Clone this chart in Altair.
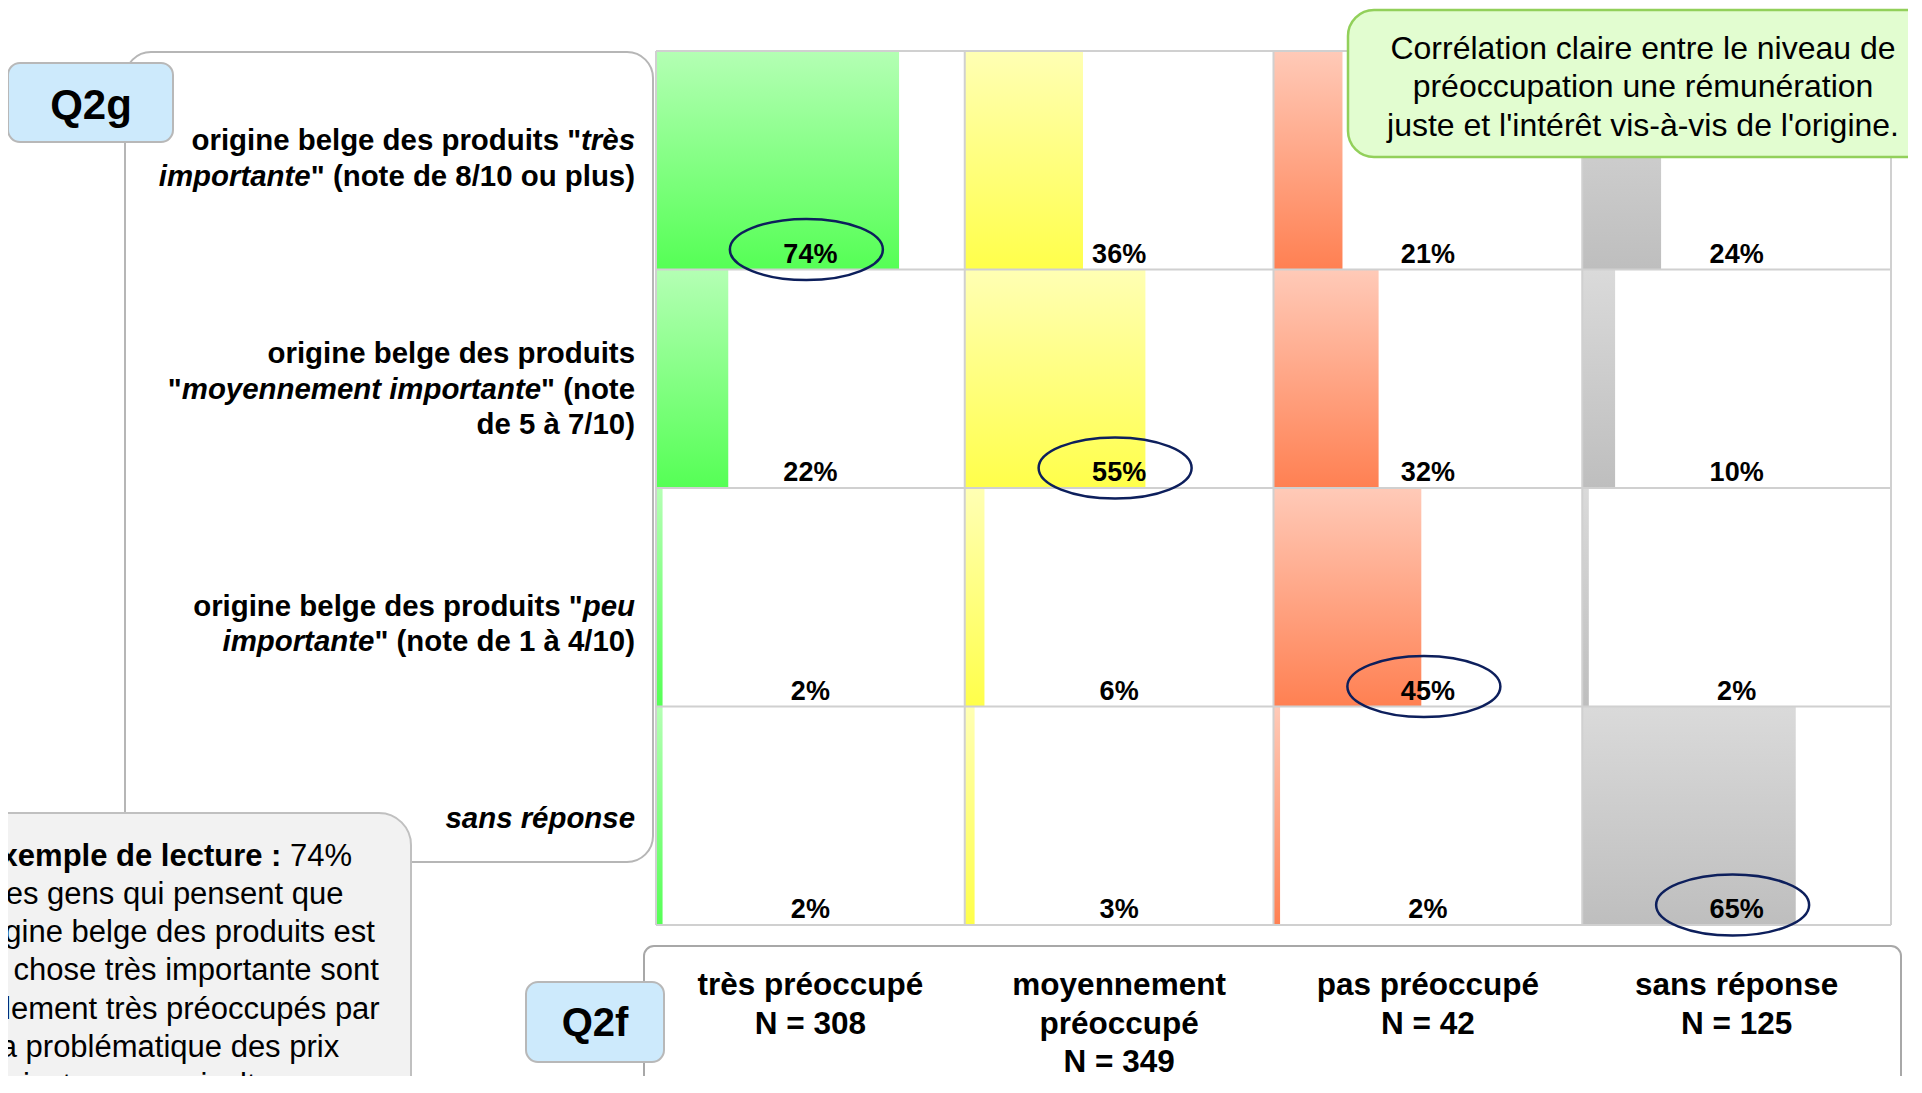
import altair as alt
import pandas as pd

# ---------------- data ----------------
q2f_header_lines = [["très préoccupé"], ["moyennement", "préoccupé"], ["pas préoccupé"], ["sans réponse"]]
q2f_n = [308, 349, 42, 125]

q2g_levels = ["très importante", "moyennement importante", "peu importante", "sans réponse"]

pct_tres_preoccupe = [74, 22, 2, 2]
pct_moyennement_preoccupe = [36, 55, 6, 3]
pct_pas_preoccupe = [21, 32, 45, 2]
pct_sans_reponse = [24, 10, 2, 65]

highlight_rows = [0, 1, 2, 3]   # highlighted row for each column
highlight_cols = [0, 1, 2, 3]

row_label_lines = [
    [[('origine belge des produits "', False), ("très", True)],
     [("importante", True), ('" (note de 8/10 ou plus)', False)]],
    [[("origine belge des produits", False)],
     [('"', False), ("moyennement importante", True), ('" (note', False)],
     [("de 5 à 7/10)", False)]],
    [[('origine belge des produits "', False), ("peu", True)],
     [("importante", True), ('" (note de 1 à 4/10)', False)]],
    [[("sans réponse", True)]],
]

callout_lines = ["Corrélation claire entre le niveau de",
                 "préoccupation une rémunération",
                 "juste et l'intérêt vis-à-vis de l'origine."]
lecture_title = "Exemple de lecture :"
lecture_lead = "74%"
lecture_lines = ["des gens qui pensent que", "l'origine belge des produits est",
                 "une chose très importante sont", "également très préoccupés par",
                 "la problématique des prix", "justes en agriculture."]

# ---------------- layout / style ----------------
FONT = "Liberation Sans"
M = 8
W, H = 1900, 1068
GX0, GX1, GY0, GY1 = 656, 1891, 51, 925
COLW = (GX1 - GX0) / 4
ROWH = (GY1 - GY0) / 4
SCALE_MAX = 94
xs = alt.Scale(domain=[0, 4], range=[GX0 - M, GX1 - M])
ys = alt.Scale(domain=[0, 4], range=[GY0 - M, GY1 - M])

BOLD_W = {' ': 278, '"': 474, '(': 333, ')': 333, '/': 278, '.': 278, ':': 333, "'": 238,
          '=': 584, '%': 889, 'a': 556, 'b': 611, 'c': 556, 'd': 611, 'e': 556, 'f': 333,
          'g': 611, 'h': 611, 'i': 278, 'j': 278, 'k': 556, 'l': 278, 'm': 889, 'n': 611,
          'o': 611, 'p': 611, 'q': 611, 'r': 389, 's': 556, 't': 333, 'u': 611, 'v': 556,
          'w': 778, 'x': 556, 'y': 556, 'z': 500, 'à': 556, 'è': 556, 'é': 556, 'ê': 556,
          'E': 667, 'N': 722, 'Q': 778}
for d in "0123456789":
    BOLD_W[d] = 556
REG_W = {' ': 278, '%': 889}
for d in "0123456789":
    REG_W[d] = 556


def bold_w(s, size):
    return sum(BOLD_W.get(ch, 556) for ch in s) / 1000 * size


def reg_w(s, size):
    return sum(REG_W.get(ch, 556) for ch in s) / 1000 * size


one = pd.DataFrame({"k": [0]})


def rbox(x0, y0, x1, y1, fill, stroke, sw, r):
    return alt.Chart(one).mark_rect(fill=fill, stroke=stroke, strokeWidth=sw, cornerRadius=r).encode(
        x=alt.value(x0 - M), x2=alt.value(x1 - M), y=alt.value(y0 - M), y2=alt.value(y1 - M))


def txt(x, y, text, size, bold=False, italic=False, align="center", line_height=None):
    kw = dict(text=text, font=FONT, fontSize=size, fontWeight="bold" if bold else "normal",
              fontStyle="italic" if italic else "normal", align=align, baseline="alphabetic",
              color="black")
    if line_height:
        kw["lineHeight"] = line_height
    return alt.Chart(one).mark_text(**kw).encode(x=alt.value(x - M), y=alt.value(y - M))


layers = []

# left frame for the Q2g labels
layers.append(rbox(125, 52, 653, 862, "white", "#b6b6b6", 2, 26))
# bottom frame for Q2f headers
layers.append(rbox(644, 946, 1901, 1090, "white", "#a8a8a8", 2, 10))

# ---------------- cells ----------------
values_by_col = [pct_tres_preoccupe, pct_moyennement_preoccupe, pct_pas_preoccupe, pct_sans_reponse]
cells = pd.DataFrame([{"col": c, "row": r, "pct": values_by_col[c][r]}
                      for c in range(4) for r in range(4)])

grads = [("#b4ffb4", "#55ff55"), ("#ffffb4", "#ffff4a"), ("#ffcab8", "#ff8052"), ("#dadada", "#bebebe")]
for c, (top, bot) in enumerate(grads):
    g = alt.LinearGradient(gradient="linear",
                           stops=[alt.GradientStop(color=top, offset=0), alt.GradientStop(color=bot, offset=1)],
                           x1=0, x2=0, y1=0, y2=1)
    layers.append(
        alt.Chart(cells).transform_filter(alt.datum.col == c).transform_calculate(
            x0="datum.col", x1=f"datum.col + datum.pct / {SCALE_MAX}",
            y0="datum.row", y1="datum.row + 1"
        ).mark_rect(color=g).encode(
            x=alt.X("x0:Q", scale=xs, axis=None), x2="x1:Q",
            y=alt.Y("y0:Q", scale=ys, axis=None), y2="y1:Q")
    )

bounds = pd.DataFrame({"k": [0, 1, 2, 3, 4]})
layers.append(
    alt.Chart(bounds).transform_calculate(y0="0", y1="4").mark_rule(color="#d0d0d0", strokeWidth=2).encode(
        x=alt.X("k:Q", scale=xs, axis=None), y=alt.Y("y0:Q", scale=ys, axis=None), y2="y1:Q"))
layers.append(
    alt.Chart(bounds).transform_calculate(x0="0", x1="4").mark_rule(color="#d0d0d0", strokeWidth=2).encode(
        y=alt.Y("k:Q", scale=ys, axis=None), x=alt.X("x0:Q", scale=xs, axis=None), x2="x1:Q"))

# percentage labels
layers.append(
    alt.Chart(cells).transform_calculate(
        cx="datum.col + 0.5", yb="datum.row + 1", label="datum.pct + '%'"
    ).mark_text(font=FONT, fontSize=27, fontWeight="bold", baseline="alphabetic", align="center",
                dy=-7, color="black").encode(
        x=alt.X("cx:Q", scale=xs, axis=None), y=alt.Y("yb:Q", scale=ys, axis=None), text="label:N"))

# highlight ellipses
k = 0.5523
ry = 0.4
ELLIPSE = (f"M -1 0 C -1 {-ry*k:.4f} {-k:.4f} {-ry} 0 {-ry} C {k:.4f} {-ry} 1 {-ry*k:.4f} 1 0 "
           f"C 1 {ry*k:.4f} {k:.4f} {ry} 0 {ry} C {-k:.4f} {ry} -1 {ry*k:.4f} -1 0 Z")
hl = pd.DataFrame({"row": highlight_rows, "col": highlight_cols})
layers.append(
    alt.Chart(hl).transform_calculate(
        ex=f"datum.col + 0.5 - {4 / COLW}", ey=f"datum.row + 1 - {20 / ROWH}"
    ).mark_point(shape=ELLIPSE, size=153 ** 2, filled=False, color="#0d1f5c", strokeWidth=2.5,
                 opacity=1).encode(
        x=alt.X("ex:Q", scale=xs, axis=None), y=alt.Y("ey:Q", scale=ys, axis=None)))

# ---------------- row labels (Q2g) ----------------
ROW_SIZE = 29.4
row_first_baseline = [150, 363, 615.5, 828]
LINE_STEP = 35.7
segs = []
for r, lines in enumerate(row_label_lines):
    for li, parts in enumerate(lines):
        xend = 635
        for text, ital in reversed(parts):
            segs.append({"text": text, "italic": ital, "px": xend - M,
                         "py": row_first_baseline[r] + li * LINE_STEP - M})
            xend -= bold_w(text, ROW_SIZE)
segdf = pd.DataFrame(segs)
for ital in (False, True):
    layers.append(
        alt.Chart(segdf).transform_filter(alt.datum.italic == ital).mark_text(
            font=FONT, fontSize=ROW_SIZE, fontWeight="bold", fontStyle="italic" if ital else "normal",
            align="right", baseline="alphabetic", color="black").encode(
            x=alt.X("px:Q", scale=None, axis=None), y=alt.Y("py:Q", scale=None, axis=None), text="text:N"))

# Q2g tag
layers.append(rbox(8, 63, 173, 142, "#cdeafc", "#b8b8b8", 2, 12))
layers.append(txt(91, 119, "Q2g", 42, bold=True))

# ---------------- reading example ----------------
layers.append(rbox(-40, 813, 411, 1140, "#f2f2f2", "#c0c0c0", 2, 32))
LEC_SIZE = 31
LEC_CX = 166
tw = bold_w(lecture_title, LEC_SIZE)
lw = reg_w(" " + lecture_lead, LEC_SIZE)
split = LEC_CX - (tw + lw) / 2 + tw
layers.append(txt(split, 865.5, lecture_title, LEC_SIZE, bold=True, align="right"))
layers.append(txt(split + reg_w(" ", LEC_SIZE), 865.5, lecture_lead, LEC_SIZE, align="left"))
layers.append(txt(LEC_CX, 903.8, lecture_lines, LEC_SIZE, line_height=38.3))

# ---------------- Q2f headers ----------------
hdr = []
for c, lines in enumerate(q2f_header_lines):
    for li, t in enumerate(lines + [f"N = {q2f_n[c]}"]):
        hdr.append({"col": c, "text": t, "py": 995 + li * 38.5 - M})
hdrdf = pd.DataFrame(hdr)
layers.append(
    alt.Chart(hdrdf).transform_calculate(cx="datum.col + 0.5").mark_text(
        font=FONT, fontSize=31.5, fontWeight="bold", align="center", baseline="alphabetic",
        color="black").encode(
        x=alt.X("cx:Q", scale=xs, axis=None), y=alt.Y("py:Q", scale=None, axis=None), text="text:N"))

layers.append(rbox(526, 982, 664, 1062, "#cdeafc", "#b8b8b8", 2, 12))
layers.append(txt(595, 1036, "Q2f", 40, bold=True))

# ---------------- callout ----------------
layers.append(rbox(1348, 10, 1945, 157, "#e2fdd0", "#92d05a", 2.5, 26))
layers.append(txt(1643, 58.5, callout_lines, 32, line_height=38.6))

chart = alt.layer(*layers).properties(
    width=W, height=H, padding=0, autosize=alt.AutoSizeParams(type="none")
).configure_view(stroke=None)

chart.save("out.html", embed_options={"renderer": "svg", "actions": False})
